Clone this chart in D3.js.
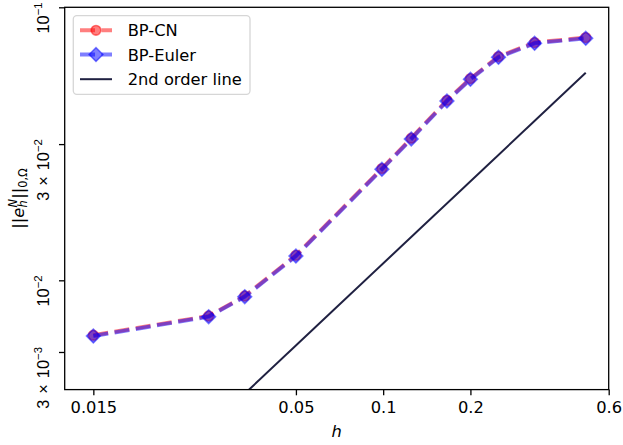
<!DOCTYPE html>
<html>
<head>
<meta charset="utf-8">
<script src="https://cdn.jsdelivr.net/npm/d3@7"></script>
<style>
  body { margin: 0; background: #fff; }
  svg { display: block; font-family: "DejaVu Sans", sans-serif; }
</style>
</head>
<body>
<svg id="chart"></svg>
<script>
// Mesh sizes and errors
const hValues = [0.01, 0.025, 0.0333, 0.05, 0.099, 0.125, 0.166, 0.2, 0.25, 0.333, 0.5];
const errCN = [0.00642, 0.0075, 0.00881, 0.01223, 0.02463, 0.03145, 0.04271, 0.05088, 0.06076, 0.06803, 0.07083];
const errEuler = [0.00638, 0.00746, 0.00876, 0.01216, 0.02448, 0.03126, 0.04246, 0.05058, 0.0604, 0.06762, 0.07041];

// reference "2nd order" line end points
const refH = [0.01, 0.5];
const refErr = [0.00127, 0.05335];

// ticks (labels as they appear on the figure)
const xTickVals = [0.01, 0.05, 0.1, 0.2, 0.6];
const xTickLabels = ["0.015", "0.05", "0.1", "0.2", "0.6"];
const yTickVals = [0.09042, 0.03, 0.01, 0.00561];
const yTickCoef = ["", "3", "", "3"];
const yTickExp = ["−1", "−2", "−2", "−3"];

const seriesNames = ["BP-CN", "BP-Euler", "2nd order line"];

const width = 623, height = 445;
const plot = { left: 64.7, right: 608.7, top: 7.3, bottom: 389.6 };
const fontSize = 16.3;
const tickLen = 5.7, tickPad = 5.7;

const svg = d3.select("#chart").attr("width", width).attr("height", height);

const x = d3.scaleLog().domain([0.007965, 0.6]).range([plot.left, plot.right]);
const y = d3.scaleLog().domain([0.004142, 0.09042]).range([plot.bottom, plot.top]);

svg.append("clipPath").attr("id", "clip")
    .append("rect")
    .attr("x", plot.left).attr("y", plot.top)
    .attr("width", plot.right - plot.left).attr("height", plot.bottom - plot.top);

const data = svg.append("g").attr("clip-path", "url(#clip)");
const line = d3.line().x(d => x(d[0])).y(d => y(d[1]));

const circleSym = d3.symbol(d3.symbolCircle, Math.PI * 4.85 * 4.85);
const squareSym = d3.symbol(d3.symbolSquare, 9.7 * 9.7);

function drawSeries(errs, color, sym, rot) {
    const pts = hValues.map((h, i) => [h, errs[i]]);
    data.append("path")
        .attr("d", line(pts))
        .attr("fill", "none")
        .attr("stroke", color)
        .attr("stroke-opacity", 0.5)
        .attr("stroke-width", 4)
        .attr("stroke-dasharray", "15,6.5")
        .attr("stroke-linejoin", "round");
    data.selectAll(null)
        .data(pts)
        .enter()
        .append("path")
        .attr("d", sym())
        .attr("transform", d => `translate(${x(d[0])},${y(d[1])}) rotate(${rot})`)
        .attr("fill", color)
        .attr("fill-opacity", 0.5)
        .attr("stroke", color)
        .attr("stroke-opacity", 0.5)
        .attr("stroke-width", 1.6);
}

drawSeries(errCN, "#ff0000", circleSym, 0);
drawSeries(errEuler, "#0000ff", squareSym, 45);

data.append("path")
    .attr("d", line(refH.map((h, i) => [h, refErr[i]])))
    .attr("fill", "none")
    .attr("stroke", "#1f2041")
    .attr("stroke-width", 2);

// x axis
const xAxis = svg.append("g")
    .attr("transform", `translate(0,${plot.bottom})`)
    .call(d3.axisBottom(x)
        .tickValues(xTickVals)
        .tickFormat((d, i) => xTickLabels[i])
        .tickSize(tickLen)
        .tickPadding(tickPad));
xAxis.select(".domain").remove();
xAxis.selectAll("line").attr("stroke", "#000").attr("stroke-width", 1.3);
xAxis.selectAll("text")
    .attr("fill", "#000")
    .style("font-size", fontSize + "px")
    .style("font-family", "DejaVu Sans");

// y axis with rotated labels
const yAxis = svg.append("g")
    .attr("transform", `translate(${plot.left},0)`)
    .call(d3.axisLeft(y)
        .tickValues(yTickVals)
        .tickFormat("")
        .tickSize(tickLen));
yAxis.select(".domain").remove();
yAxis.selectAll("line").attr("stroke", "#000").attr("stroke-width", 1.3);
yAxis.selectAll(".tick").each(function(d, i) {
    const t = d3.select(this).append("text")
        .attr("transform", "translate(-15.7,-5.5) rotate(-90)")
        .attr("text-anchor", "end")
        .attr("fill", "#000")
        .style("font-size", fontSize + "px");
    if (yTickCoef[i]) {
        t.append("tspan").text(yTickCoef[i]);
        t.append("tspan").attr("dx", 6).text("×");
        t.append("tspan").attr("dx", 6).text("10");
    } else {
        t.append("tspan").text("10");
    }
    t.append("tspan")
        .attr("dy", -6.5)
        .style("font-size", (fontSize * 0.7) + "px")
        .text(yTickExp[i]);
});

// frame
svg.append("rect")
    .attr("x", plot.left).attr("y", plot.top)
    .attr("width", plot.right - plot.left).attr("height", plot.bottom - plot.top)
    .attr("fill", "none")
    .attr("stroke", "#000")
    .attr("stroke-width", 1.3);

// axis labels
svg.append("text")
    .attr("x", (plot.left + plot.right) / 2)
    .attr("y", 437)
    .attr("text-anchor", "middle")
    .style("font-size", fontSize + "px")
    .style("font-style", "italic")
    .text("h");

const yl = svg.append("text")
    .attr("transform", `translate(23.5,${(plot.top + plot.bottom) / 2}) rotate(-90)`)
    .attr("text-anchor", "middle")
    .style("font-size", fontSize + "px");
const sub = fontSize * 0.7;
yl.append("tspan").text("||");
yl.append("tspan").style("font-style", "italic").text("e");
yl.append("tspan").attr("dy", 3.5).style("font-style", "italic").style("font-size", sub + "px").text("h");
yl.append("tspan").attr("dx", -7).attr("dy", -10.5).style("font-style", "italic").style("font-size", sub + "px").text("N");
yl.append("tspan").attr("dy", 7).text("||");
yl.append("tspan").attr("dy", 3.5).style("font-size", sub + "px").text("0,Ω");

// legend
const legend = svg.append("g");
legend.append("rect")
    .attr("x", 73.3).attr("y", 15.7)
    .attr("width", 176.7).attr("height", 78.6)
    .attr("rx", 3.5)
    .attr("fill", "#fff").attr("fill-opacity", 0.8)
    .attr("stroke", "#cccccc").attr("stroke-opacity", 0.8)
    .attr("stroke-width", 1.3);

const rowY = [30.3, 54.6, 79.2];
const handleX0 = 80, handleX1 = 112;
const legendColors = ["#ff0000", "#0000ff"];
const legendSyms = [[circleSym, 0], [squareSym, 45]];

legendColors.forEach((c, i) => {
    legend.append("line")
        .attr("x1", handleX0).attr("x2", handleX1)
        .attr("y1", rowY[i]).attr("y2", rowY[i])
        .attr("stroke", c).attr("stroke-opacity", 0.5)
        .attr("stroke-width", 4)
        .attr("stroke-dasharray", "15,6.5");
    legend.append("path")
        .attr("d", legendSyms[i][0]())
        .attr("transform", `translate(${(handleX0 + handleX1) / 2},${rowY[i]}) rotate(${legendSyms[i][1]})`)
        .attr("fill", c).attr("fill-opacity", 0.5)
        .attr("stroke", c).attr("stroke-opacity", 0.5)
        .attr("stroke-width", 1.6);
});
legend.append("line")
    .attr("x1", handleX0).attr("x2", handleX1)
    .attr("y1", rowY[2]).attr("y2", rowY[2])
    .attr("stroke", "#1f2041")
    .attr("stroke-width", 2);

legend.selectAll(".lbl")
    .data(seriesNames)
    .enter()
    .append("text")
    .attr("x", 127.7)
    .attr("y", (d, i) => rowY[i] + 5.9)
    .style("font-size", fontSize + "px")
    .text(d => d);
</script>
</body>
</html>
